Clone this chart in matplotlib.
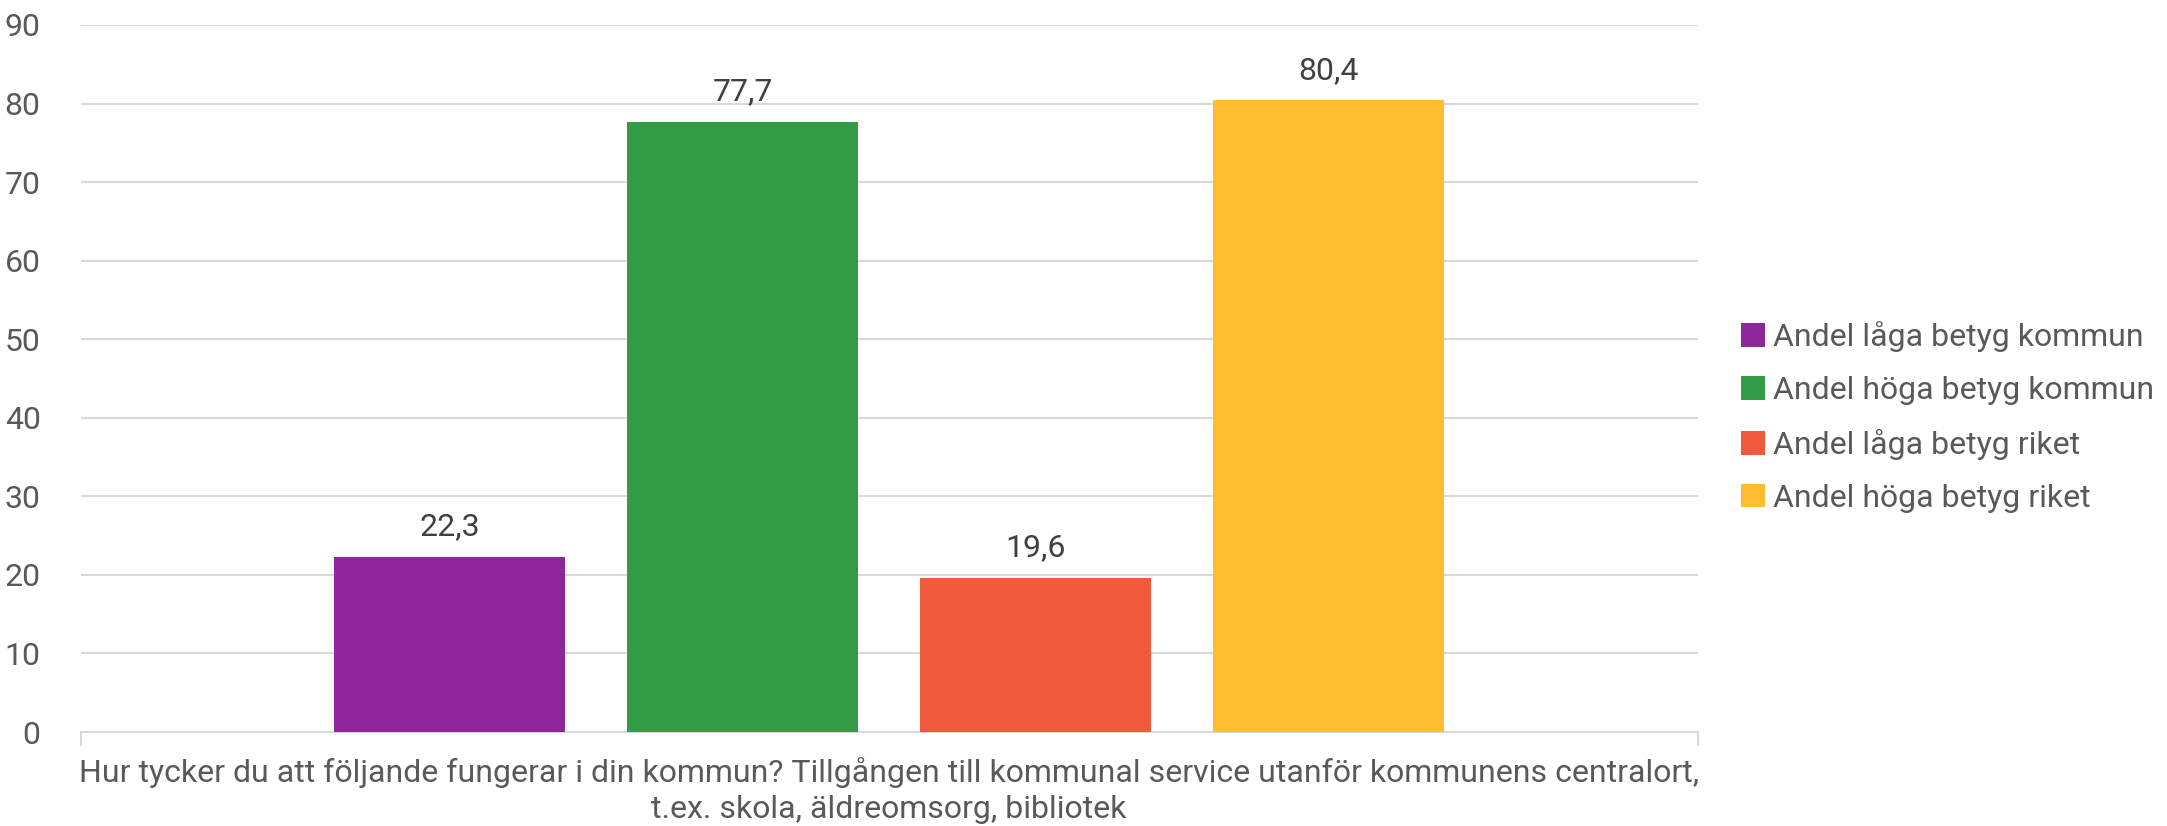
import numpy as np
import matplotlib.pyplot as plt

plt.rcParams['font.family'] = ['Roboto', 'DejaVu Sans']

series = ['Andel låga betyg kommun', 'Andel höga betyg kommun',
          'Andel låga betyg riket', 'Andel höga betyg riket']
values = [22.3, 77.7, 19.6, 80.4]
colors = ['#8E279B', '#339B46', '#F05A3C', '#FFBD2F']
category = ('Hur tycker du att följande fungerar i din kommun? Tillgången till kommunal service utanför kommunens centralort,\n'
            't.ex. skola, äldreomsorg, bibliotek')

fig = plt.figure(figsize=(21.67, 8.26), dpi=100)
ax = fig.add_axes([81/2167, 1 - 732/826, 1617/2167, 707/826])

bw = 0.1429
offsets = np.array([-0.272, -0.0909, 0.0903, 0.2717])
for off, v, c, s in zip(offsets, values, colors, series):
    ax.bar(off, v, width=bw, color=c, label=s, zorder=3)
    ax.text(off, v + 2.0, ('%.1f' % v).replace('.', ','), ha='center', va='bottom',
            fontsize=23, color='#404040')

ax.set_xlim(-0.5, 0.5)
ax.set_ylim(0, 90)
ax.set_yticks(np.arange(0, 91, 10))
ax.yaxis.grid(True, color='#D9D9D9', linewidth=1.5, zorder=0)
for sp in ['top', 'right', 'left']:
    ax.spines[sp].set_visible(False)
ax.spines['bottom'].set_color('#D9D9D9')
ax.spines['bottom'].set_linewidth(1.5)
ax.tick_params(axis='y', length=0, labelsize=23, labelcolor='#595959', pad=29)
ax.set_xticks([-0.5, 0.5])
ax.set_xticklabels(['', ''])
ax.tick_params(axis='x', length=10, width=1.5, color='#D9D9D9')
fig.text(889/2167, 1 - 757/826, category, ha='center', va='top',
         fontsize=23, color='#595959', linespacing=1.3)

leg = fig.legend(loc='center left', bbox_to_anchor=(1741/2167, 1 - 417/826),
                 frameon=False, fontsize=23, labelcolor='#595959',
                 handlelength=0.75, handleheight=0.75, handletextpad=0.25,
                 labelspacing=0.75, borderaxespad=0, borderpad=0)

fig.savefig('out.png', dpi=100, facecolor='white')
